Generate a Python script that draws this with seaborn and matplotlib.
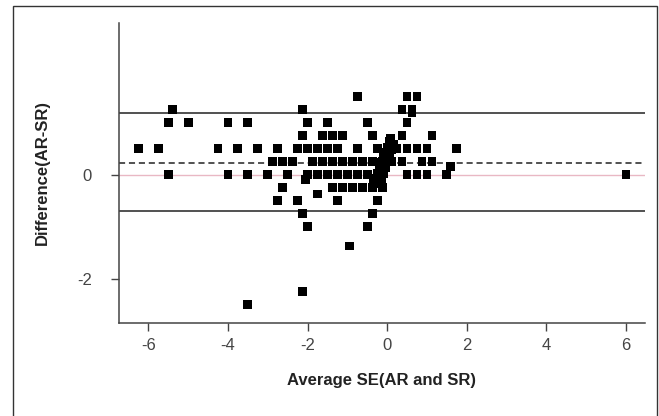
import numpy as np
import pandas as pd
import matplotlib
matplotlib.use("Agg")
import matplotlib.pyplot as plt
import seaborn as sns

# average SE (x) for each difference level (y)
avg_at_150 = [-0.75, 0.5, 0.75]
avg_at_125 = [-5.4, -2.125, 0.375, 0.625]
avg_at_100 = [-5.5, -5.0, -4.0, -3.5, -2.0, -1.5, -0.5, 0.5]
avg_at_075 = [-2.125, -1.625, -1.375, -1.125, -0.375, 0.375, 1.125]
avg_at_050 = [-6.25, -5.75, -4.25, -3.75, -3.25, -2.75, -2.25, -2.0, -1.75,
              -1.5, -1.25, -0.75, -0.25, 0.25, 0.5, 0.75, 1.0, 1.75]
avg_at_025 = [-2.875, -2.625, -2.375, -1.875, -1.625, -1.375, -1.125, -0.875,
              -0.625, -0.375, -0.125, 0.125, 0.375, 0.875, 1.125]
avg_at_000 = [-5.5, -4.0, -3.5, -3.0, -2.5, -2.0, -1.75, -1.5, -1.25, -1.0,
              -0.75, -0.5, -0.25, 0.5, 0.75, 1.0, 1.5, 6.0]
avg_at_m025 = [-2.625, -1.375, -1.125, -0.875, -0.625, -0.375, -0.125]
avg_at_m050 = [-2.75, -2.25, -1.25, -0.25]
avg_at_m075 = [-2.125, -0.375]
avg_at_m100 = [-2.0, -0.5]

# scattered points off the regular rows
odd_avg = [-2.05, -1.75, -0.95, -2.125, -3.5, 1.6, 0.625]
odd_diff = [-0.1, -0.375, -1.375, -2.25, -2.5, 0.15, 1.2]

# the dense diagonal streak near zero
diag_avg = [-0.34, -0.29, -0.24, -0.19, -0.14, -0.09, -0.04, 0.01, 0.06, 0.09,
            -0.13, -0.08, -0.03, 0.02, 0.07, 0.12, 0.16]
diag_diff = [-0.17, -0.07, 0.03, 0.13, 0.23, 0.33, 0.43, 0.53, 0.63, 0.70,
             -0.10, 0.02, 0.14, 0.26, 0.38, 0.48, 0.57]

mean_diff = 0.23
upper_loa = 1.18
lower_loa = -0.70

rows = [(1.5, avg_at_150), (1.25, avg_at_125), (1.0, avg_at_100),
        (0.75, avg_at_075), (0.5, avg_at_050), (0.25, avg_at_025),
        (0.0, avg_at_000), (-0.25, avg_at_m025), (-0.5, avg_at_m050),
        (-0.75, avg_at_m075), (-1.0, avg_at_m100)]
xs, ys = [], []
for level, avgs in rows:
    xs += avgs
    ys += [level] * len(avgs)
xs += odd_avg + diag_avg
ys += odd_diff + diag_diff
df = pd.DataFrame({"avg": xs, "diff": ys})

sns.set_theme(style="white")
plt.rcParams['font.family'] = ['Liberation Sans', 'DejaVu Sans']
plt.rcParams['axes.unicode_minus'] = False

fig = plt.figure(figsize=(6.59, 4.16), dpi=100)
ax = fig.add_axes([118.5 / 659, 1 - 322.7 / 416, 526.5 / 659, 300 / 416])

# outer frame around the whole picture
fig.patches.append(plt.Rectangle((13 / 659, -0.02), (657 - 13) / 659, 1.02 - 6 / 416,
                                 transform=fig.transFigure, fill=False,
                                 edgecolor="#333333", linewidth=1.0))

ax.axhline(0, color="#e9b8c4", linewidth=1.0, zorder=1)
ax.axhline(upper_loa, color="#222222", linewidth=1.1, zorder=1)
ax.axhline(lower_loa, color="#222222", linewidth=1.1, zorder=1)
ax.axhline(mean_diff, color="#222222", linewidth=1.1, linestyle=(0, (4, 2.5)), zorder=1)

sns.scatterplot(data=df, x="avg", y="diff", marker="s", s=40, color="black",
                edgecolor="none", ax=ax, zorder=3)

ax.set_xlim(-6.75, 6.48)
ax.set_ylim(-2.85, 2.92)
ax.set_xticks([-6, -4, -2, 0, 2, 4, 6])
ax.set_yticks([-2, 0])

for side in ["top", "right"]:
    ax.spines[side].set_visible(False)
for side in ["left", "bottom"]:
    ax.spines[side].set_color("#444444")
    ax.spines[side].set_linewidth(1.1)

ax.tick_params(axis="x", direction="out", length=6, width=1.0, color="#444444",
               labelsize=12, labelcolor="#444444", pad=5, bottom=True)
ax.tick_params(axis="y", direction="out", length=6, width=1.0, color="#444444",
               labelsize=12, labelcolor="#444444", pad=13, left=True)

ax.set_xlabel("Average SE(AR and SR)", fontsize=12, fontweight="bold", color="#222222")
ax.set_ylabel("Difference(AR-SR)", fontsize=12, fontweight="bold", color="#222222")
ax.xaxis.set_label_coords(0.5, -0.194)
ax.yaxis.set_label_coords(-0.145, 0.5)
ax.xaxis.label.set_va("center")
ax.yaxis.label.set_va("center")

fig.savefig("out.png", dpi=100, facecolor="white")
